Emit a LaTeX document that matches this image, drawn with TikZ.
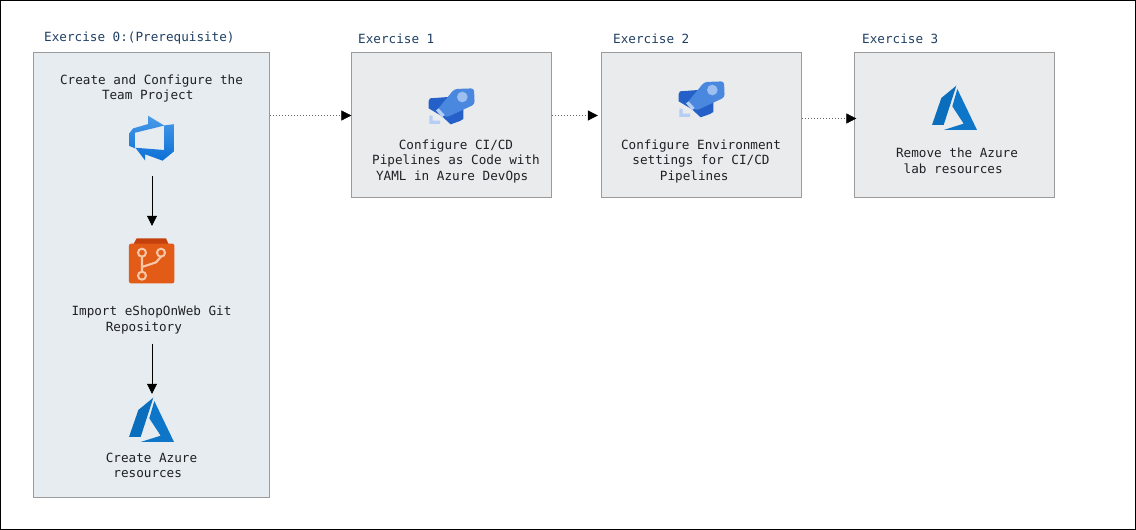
\documentclass[tikz,border=0pt]{standalone}
\usepackage{fontspec}
\setmonofont{DejaVu Sans Mono}
\usetikzlibrary{arrows.meta}
\definecolor{panelA}{HTML}{E6ECEF}
\definecolor{panelB}{HTML}{E9EBEC}
\definecolor{edgegrey}{HTML}{9B9B9B}
\definecolor{headblue}{HTML}{1F3F63}
\definecolor{txt}{HTML}{202124}
\definecolor{azureD}{HTML}{0A6EBD}
\definecolor{azureL}{HTML}{0D76C8}
\definecolor{pipeD}{HTML}{2560C8}
\definecolor{pipeM}{HTML}{4A88E0}
\definecolor{pipeL}{HTML}{9DBEF0}
\definecolor{pipeS}{HTML}{B4CEF4}
\definecolor{repoA}{HTML}{E25B17}
\definecolor{repoB}{HTML}{C4400C}
\definecolor{repoL}{HTML}{F7C7A8}
\definecolor{azDevT}{HTML}{4A9BE8}
\definecolor{azDevB}{HTML}{0B70D6}
\newcommand{\trail}[1]{\hspace*{#1pt}}
\tikzset{
  panelbox/.style={draw=edgegrey,line width=0.9pt,inner sep=0pt,anchor=north west,minimum height=145pt,minimum width=200pt,fill=panelB},
  headtxt/.style={anchor=west,inner sep=0pt,text=headblue,font=\ttfamily\fontsize{12.65}{15.4}\selectfont},
  bodytxt/.style={align=center,inner sep=0pt,text=txt,font=\ttfamily\fontsize{12.65}{15.4}\selectfont},
  iconbox/.style={inner sep=0pt,minimum width=45pt,minimum height=45pt},
  solidarrow/.style={draw=black,line width=0.6pt,-{Triangle[length=10pt,width=10pt]}},
  dotarrow/.style={draw=black!60,line width=0.5pt,dash pattern=on 1pt off 2pt,-{Triangle[length=10pt,width=10pt,color=black]}},
}
\newcommand{\azurelogo}[2]{%
  \begin{scope}[shift={(#1,#2)},x=0.3333pt,y=-0.3333pt]
    \fill[fill=azureD] (130,38) -- (85,75) -- (57,156) -- (92,156) -- cycle;
    \fill[fill=azureL] (133,48) -- (118,100) -- (152,152) -- (92,171) -- (192,171) -- cycle;
  \end{scope}}
\newcommand{\pipelogo}[2]{%
  \begin{scope}[shift={(#1,#2)},x=0.3333pt,y=-0.3333pt]
    \fill[pipeD] (56,78) -- (60,70) -- (115,66) -- (160,92) -- (160,132) -- (150,138) -- (122,148) -- (96,124) -- (56,100) -- cycle;
    \fill[pipeM,rounded corners=3pt] (133,42) -- (192,40) -- (194,88) -- (108,128) -- (82,104) -- cycle;
    \fill[pipeL] (157,66) circle[radius=16];
    \fill[pipeS] (58,122) -- (68,122) -- (68,137) -- (90,137) -- (90,147) -- (58,147) -- cycle;
    \fill[pipeS] (78,106) -- (86,100) -- (104,120) -- (96,127) -- cycle;
  \end{scope}}
\begin{document}
\begin{tikzpicture}[x=1pt,y=-1pt]
\useasboundingbox (0,0) rectangle (1136,530);
\draw[black,line width=1.4pt] (0.7,0.7) rectangle (1135.3,529.3);

% panels
\node[panelbox,fill=panelA,minimum width=236pt,minimum height=445pt] (box0) at (33.4,52) {};
\node[panelbox] (box1) at (351.4,52) {};
\node[panelbox] (box2) at (601.4,52) {};
\node[panelbox] (box3) at (854.4,52) {};

% headings
\node[headtxt] (h0) at (44,38.4) {Exercise 0:(Prerequisite)};
\node[headtxt] (h1) at (358,38.4) {Exercise 1};
\node[headtxt] (h2) at (613,38.4) {Exercise 2};
\node[headtxt] (h3) at (862,38.4) {Exercise 3};

% texts
\node[bodytxt] (t0) at (151.5,88.7) {Create and Configure the\\Team Project\trail{7.6}};
\node[bodytxt] (t1) at (151.5,320.2) {Import eShopOnWeb Git\\Repository\trail{15.2}};
\node[bodytxt] (t2) at (151.5,465.5) {Create Azure\\resources\trail{7.6}};
\node[bodytxt] (t3) at (456,161.2) {Configure CI/CD\\Pipelines as Code with\\YAML in Azure DevOps\trail{7.6}};
\node[bodytxt] (t4) at (701,161.2) {Configure Environment\\settings for CI/CD\\Pipelines\trail{13.5}};
\node[bodytxt] (t5) at (957,160.6) {Remove the Azure\\lab resources\trail{7.6}};

% icon frames
\node[iconbox] (idevops) at (151.5,138) {};
\node[iconbox] (irepo) at (151.5,260.5) {};
\node[iconbox] (iazure) at (151.5,420) {};

% Azure DevOps icon
\begin{scope}[shift={(126.2,113)},x=2.8pt,y=-2.8pt]
  \shade[top color=azDevT,bottom color=azDevB]
    (17,4) -- (17,13.74) -- (13,17.02) -- (6.8,14.76) -- (6.8,17) -- (3.29,12.41) -- (13.52,13.21) -- (13.52,4.44) -- cycle
    (13.59,4.49) -- (7.85,1) -- (7.85,3.94) -- (2.46,5.5) -- (1,7.39) -- (1,11.69) -- (3.06,12.6) -- (3.06,7.07) -- cycle;
\end{scope}

% Repos icon
\begin{scope}[shift={(100,225)},x=0.3333pt,y=-0.3333pt]
  \fill[repoB] (110,40) -- (198,40) -- (206,58) -- (100,58) -- cycle;
  \fill[repoA,rounded corners=2pt] (87,56) rectangle (223,175);
  \draw[repoL,line width=2.2pt] (126,95) -- (126,140) (126,126) -- (168,112) -- (183,95);
  \draw[repoL,line width=2pt] (126,83) circle[radius=12] (183,83) circle[radius=12] (126,152) circle[radius=12];
\end{scope}

\azurelogo{110}{385}
\azurelogo{913}{73}
\pipelogo{410}{75}
\pipelogo{660}{68}

% connectors
\coordinate (c0) at (270,115.5);
\coordinate (c1) at (552,115.5);
\coordinate (c2) at (802,118.5);
\coordinate (vx) at (152,0);
\draw[dotarrow] (c0) -- (box1.west |- c0);
\draw[dotarrow,shorten >=3.5pt] (c1) -- (box2.west |- c1);
\draw[dotarrow,shorten >=-2pt] (c2) -- (box3.west |- c2);
\draw[solidarrow,shorten <=15.5pt,shorten >=12pt] (vx |- idevops.south) -- (vx |- irepo.north);
\draw[solidarrow,shorten <=9.5pt,shorten >=3.5pt] (vx |- t1.south) -- (vx |- iazure.north);
\end{tikzpicture}
\end{document}
